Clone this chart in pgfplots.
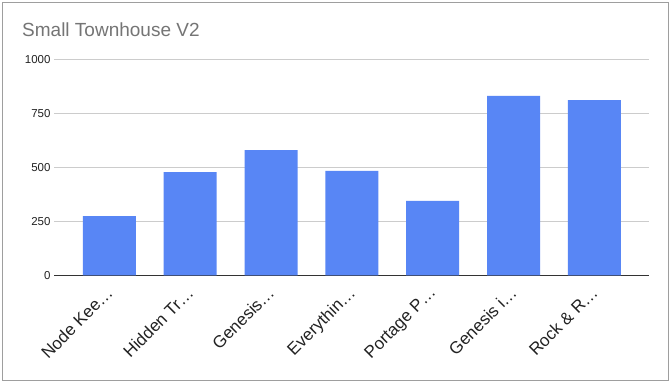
\documentclass[border=0pt]{standalone}
\usepackage{fontspec}
\setmainfont{Liberation Sans}
\usepackage{pgfplots}
\pgfplotsset{compat=1.18}
\definecolor{barblue}{RGB}{88,134,245}
\definecolor{gridgray}{RGB}{204,204,204}
\definecolor{titlegray}{RGB}{117,117,117}
\definecolor{framegray}{RGB}{158,158,158}
\definecolor{axisdark}{RGB}{51,51,51}
\definecolor{ticktext}{RGB}{34,34,34}
\begin{document}
\begin{tikzpicture}
\useasboundingbox (0pt,0pt) rectangle (671pt,385pt);
\fill[white] (0pt,0pt) rectangle (671pt,385pt);
\draw[framegray, line width=1pt] (2.5pt,5pt) rectangle (668.5pt,382.5pt);
\node[anchor=base west, inner sep=0pt, text=titlegray, font=\fontsize{19}{22}\selectfont] at (22pt,348pt) {Small Townhouse V2};
\begin{axis}[
  at={(54pt,109.7pt)}, anchor=south west,
  scale only axis, width=595.3pt, height=216pt,
  xmin=-0.685, xmax=6.68, ymin=0, ymax=1000,
  ytick={250,500,750,1000},
  extra y ticks={0},
  extra y tick style={grid style={axisdark, line width=1pt}},
  ymajorgrids, grid style={gridgray, line width=0.8pt},
  axis line style={draw=none},
  major tick length=0pt,
  xtick={0,1,2,3,4,5,6},
  xticklabels={Node Kee…, Hidden Tr…, Genesis…, Everythin…, Portage P…, Genesis i…, Rock \& R…},
  xticklabel style={rotate=45, anchor=north east, inner sep=0pt, font=\fontsize{17}{19}\selectfont, text=ticktext, xshift=-10pt, yshift=-4pt},
  yticklabel style={font=\fontsize{11.5}{13}\selectfont, text=ticktext},
  /pgf/number format/assume math mode=true,
  /pgf/number format/1000 sep={},
  ybar, bar width=53pt, bar shift=0pt,
  clip=false,
]
\addplot[fill=barblue, draw=none] coordinates {(0,274) (1,478) (2,580) (3,483) (4,344) (5,831) (6,811)};
\end{axis}
\end{tikzpicture}
\end{document}
